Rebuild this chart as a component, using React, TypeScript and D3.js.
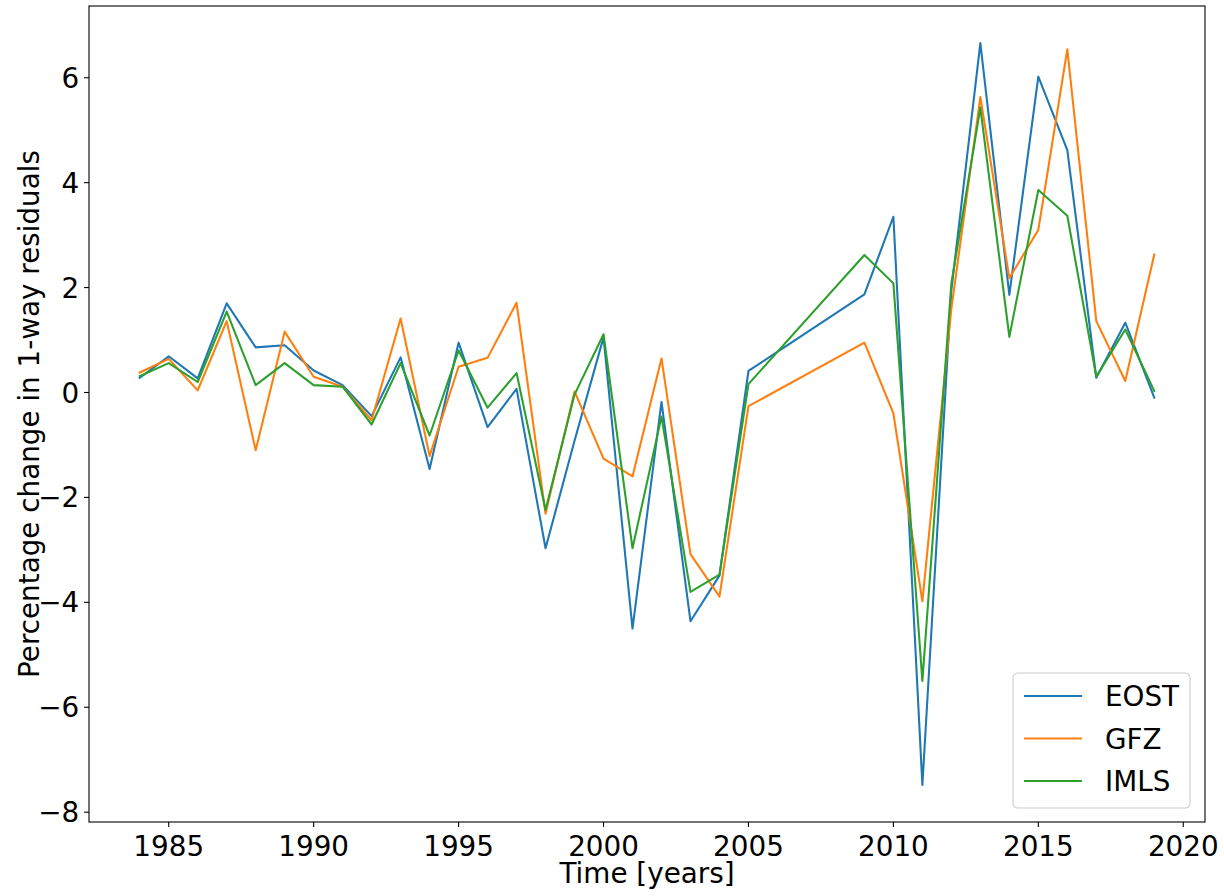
import React from 'react';
import * as d3 from 'd3';

// years with data (gap 2006-2008)
const years = [
  1984, 1985, 1986, 1987, 1988, 1989, 1990, 1991, 1992, 1993, 1994, 1995,
  1996, 1997, 1998, 1999, 2000, 2001, 2002, 2003, 2004, 2005,
  2009, 2010, 2011, 2012, 2013, 2014, 2015, 2016, 2017, 2018, 2019,
];

const eost = [
  0.28, 0.69, 0.27, 1.70, 0.86, 0.90, 0.42, 0.14, -0.45, 0.67, -1.46, 0.95,
  -0.66, 0.07, -2.97, -0.92, 1.05, -4.50, -0.18, -4.36, -3.49, 0.41,
  1.87, 3.35, -7.48, 1.95, 6.66, 1.86, 6.02, 4.62, 0.28, 1.33, -0.10,
];

const gfz = [
  0.38, 0.64, 0.04, 1.36, -1.10, 1.16, 0.30, 0.11, -0.53, 1.41, -1.21, 0.49,
  0.66, 1.71, -2.31, 0.02, -1.26, -1.60, 0.65, -3.08, -3.89, -0.26,
  0.95, -0.40, -3.98, 1.60, 5.63, 2.18, 3.10, 6.54, 1.36, 0.22, 2.63,
];

const imls = [
  0.31, 0.56, 0.20, 1.54, 0.14, 0.56, 0.14, 0.11, -0.61, 0.56, -0.82, 0.80,
  -0.29, 0.37, -2.24, -0.04, 1.11, -2.97, -0.46, -3.80, -3.47, 0.16,
  2.62, 2.08, -5.50, 2.08, 5.43, 1.06, 3.86, 3.37, 0.30, 1.20, 0.03,
];

const seriesNames = ['EOST', 'GFZ', 'IMLS'];
const seriesColors = ['#1f77b4', '#ff7f0e', '#2ca02c'];
const xTicks = [1985, 1990, 1995, 2000, 2005, 2010, 2015, 2020];
const yTicks = [-8, -6, -4, -2, 0, 2, 4, 6];

const W = 1224;
const H = 896;
const margin = { left: 89, right: 19, top: 6, bottom: 74 };
const font = '"DejaVu Sans", sans-serif';
const fs = 27.8;

export default function App() {
  const series = [eost, gfz, imls];

  const xMin = d3.min(years)!;
  const xMax = d3.max(years)!;
  const xPad = (xMax - xMin) * 0.05;
  const x = d3
    .scaleLinear()
    .domain([xMin - xPad, xMax + xPad])
    .range([margin.left, W - margin.right]);

  const all = series.flat();
  const yMin = d3.min(all)!;
  const yMax = d3.max(all)!;
  const yPad = (yMax - yMin) * 0.05;
  const y = d3
    .scaleLinear()
    .domain([yMin - yPad, yMax + yPad])
    .range([H - margin.bottom, margin.top]);

  const line = d3
    .line<number>()
    .x((_, i) => x(years[i]))
    .y((d) => y(d));

  const fmt = (v: number) => (v < 0 ? '\u2212' + Math.abs(v) : String(v));

  const x0 = margin.left;
  const x1 = W - margin.right;
  const y0 = H - margin.bottom;
  const y1 = margin.top;

  // legend box
  const lg = { x: 1013, y: 673, w: 177, h: 135 };

  return (
    <svg
      width={W}
      height={H}
      style={{ position: 'absolute', left: 0, top: 0, background: '#fff' }}
      fontFamily={font}
    >
      <rect x={0} y={0} width={W} height={H} fill="#fff" />

      {series.map((s, k) => (
        <path
          key={seriesNames[k]}
          d={line(s) || ''}
          fill="none"
          stroke={seriesColors[k]}
          strokeWidth={2.08}
          strokeLinejoin="round"
          strokeLinecap="square"
        />
      ))}

      <rect
        x={x0}
        y={y1}
        width={x1 - x0}
        height={y0 - y1}
        fill="none"
        stroke="#000"
        strokeWidth={1.1}
      />

      {xTicks.map((t) => (
        <g key={'x' + t} transform={`translate(${x(t)},${y0})`}>
          <line y1={0} y2={4.9} stroke="#000" strokeWidth={1.1} />
          <text y={34} textAnchor="middle" fontSize={fs} fill="#000">
            {t}
          </text>
        </g>
      ))}

      {yTicks.map((t) => (
        <g key={'y' + t} transform={`translate(${x0},${y(t)})`}>
          <line x1={0} x2={-4.9} stroke="#000" strokeWidth={1.1} />
          <text
            x={-9.8}
            dy="0.36em"
            textAnchor="end"
            fontSize={fs}
            fill="#000"
          >
            {fmt(t)}
          </text>
        </g>
      ))}

      <text
        x={(x0 + x1) / 2}
        y={883}
        textAnchor="middle"
        fontSize={fs}
        fill="#000"
      >
        Time [years]
      </text>
      <text
        transform={`translate(39,${(y0 + y1) / 2}) rotate(-90)`}
        textAnchor="middle"
        fontSize={fs}
        fill="#000"
      >
        Percentage change in 1-way residuals
      </text>

      <g>
        <rect
          x={lg.x}
          y={lg.y}
          width={lg.w}
          height={lg.h}
          rx={5}
          fill="#fff"
          fillOpacity={0.8}
          stroke="#cccccc"
          strokeWidth={1.1}
        />
        {seriesNames.map((name, k) => {
          const ly = 696 + k * 42.5;
          return (
            <g key={name}>
              <line
                x1={1024}
                x2={1082}
                y1={ly}
                y2={ly}
                stroke={seriesColors[k]}
                strokeWidth={2.08}
              />
              <text x={1105} y={ly} dy="0.36em" fontSize={fs} fill="#000">
                {name}
              </text>
            </g>
          );
        })}
      </g>
    </svg>
  );
}
